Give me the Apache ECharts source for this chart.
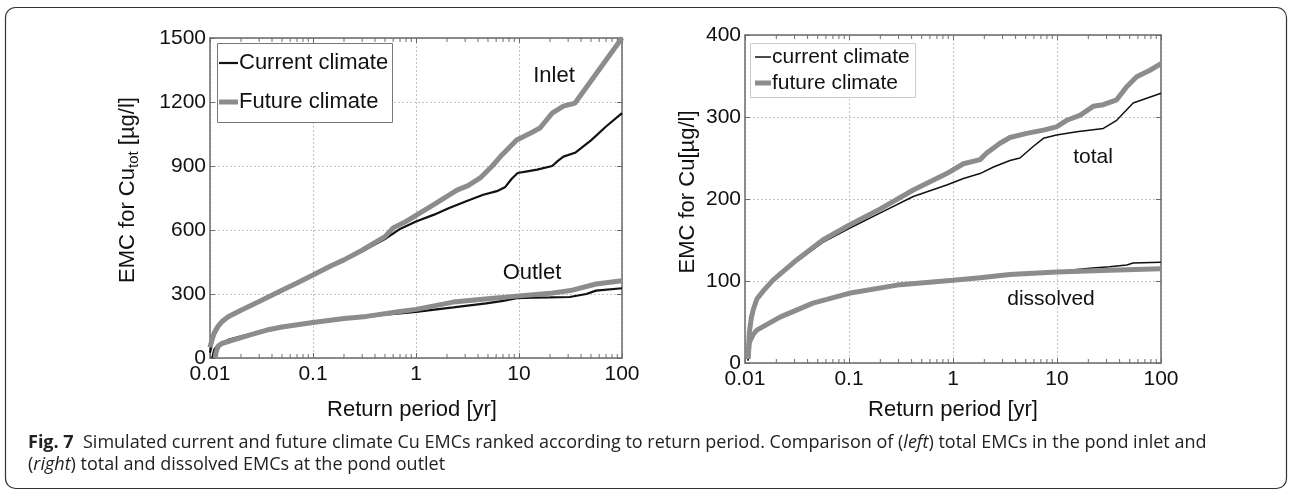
<!DOCTYPE html>
<html>
<head>
<meta charset="utf-8">
<script src="https://cdn.jsdelivr.net/npm/echarts@6/dist/echarts.min.js"></script>
<style>
html,body{margin:0;padding:0;background:#fff;}
#chart{width:1290px;height:490px;}
</style>
</head>
<body>
<div id="chart"></div>
<script>
// ---------- data ----------
const xTickLabels = ['0.01', '0.1', '1', '10', '100'];
const leftYTicks = [0, 300, 600, 900, 1200, 1500];
const rightYTicks = [0, 100, 200, 300, 400];
const minorTicks = [0.02,0.03,0.04,0.05,0.06,0.07,0.08,0.09,
                    0.2,0.3,0.4,0.5,0.6,0.7,0.8,0.9,
                    2,3,4,5,6,7,8,9,
                    20,30,40,50,60,70,80,90];
const leftLegend = ['Current climate', 'Future climate'];
const rightLegend = ['current climate', 'future climate'];

// Left panel: total Cu at inlet / outlet  [return period (yr), EMC (µg/l)]
const inletCurrent = [[0.01,25],[0.0105,70],[0.011,105],[0.012,140],[0.013,163],[0.015,188],[0.02,222],[0.03,262],[0.05,315],[0.07,350],[0.1,387],[0.15,430],[0.2,458],[0.3,500],[0.5,558],[0.7,605],[1.0,640],[1.5,672],[2.1,703],[3.3,741],[4.5,765],[6.1,782],[7.3,800],[8.5,840],[9.7,867],[12,875],[15,883],[21,900],[24,925],[27,944],[35,962],[50,1020],[70,1085],[100,1148]];
const inletFuture = [[0.01,50],[0.0105,90],[0.011,118],[0.012,150],[0.013,170],[0.015,193],[0.02,224],[0.03,265],[0.05,318],[0.07,352],[0.1,389],[0.15,432],[0.2,460],[0.3,505],[0.5,569],[0.6,610],[0.8,640],[1.0,668],[1.46,717],[2.5,787],[3.2,808],[4.2,844],[5.5,900],[6.6,944],[9.5,1022],[13,1055],[16,1078],[21,1148],[27,1181],[35,1195],[100,1500]];
const outletCurrent = [[0.0105,0],[0.011,40],[0.012,62],[0.015,85],[0.02,102],[0.035,130],[0.05,145],[0.1,166],[0.2,185],[0.33,194],[0.5,203],[0.7,209],[1,216],[2.3,237],[4.8,256],[7,268],[9.5,281],[13.7,283],[20,284],[31,286],[45,300],[56,316],[100,327]];
const outletFuture = [[0.0112,0],[0.0115,30],[0.012,55],[0.013,68],[0.0167,84],[0.025,110],[0.0357,131],[0.05,145],[0.1,166],[0.2,185],[0.33,195],[0.7,218],[1,228],[2.3,262],[5,278],[9.5,290],[20,303],[33,318],[56,347],[100,362]];

// Right panel: Cu at outlet, total and dissolved
const totalCurrent = [[0.0107,3],[0.011,35],[0.012,62],[0.013,76],[0.015,88],[0.0186,100],[0.0316,124],[0.056,147],[0.1,164],[0.2,183],[0.415,203],[0.87,217],[1.26,225],[1.82,231],[2.45,239],[3.53,247],[4.4,250],[5.9,264],[7.4,274],[9.9,278],[15.5,282],[27.9,286],[37.5,296],[54,317],[100,329]];
const totalFuture = [[0.0107,5],[0.011,37],[0.0115,55],[0.012,65],[0.013,78],[0.015,88],[0.0186,101],[0.0316,126],[0.056,150],[0.1,168],[0.2,188],[0.415,211],[0.87,231],[1.26,243],[1.82,248],[2.11,256],[2.83,268],[3.53,275],[5.1,280],[7.4,284],[9.9,288],[12.4,296],[16.6,302],[22.3,313],[27.9,315],[37.5,321],[46.8,337],[58.4,349],[78.3,357],[100,365]];
const dissolvedCurrent = [[0.0107,3],[0.011,24],[0.012,34],[0.013,39],[0.0217,55],[0.045,72],[0.1,84],[0.29,94],[1,100],[1.82,103],[3.53,107],[9.9,111],[15.5,114],[22,116],[32,117.5],[46.8,119.5],[54,122],[100,123]];
const dissolvedFuture = [[0.0107,5],[0.011,25],[0.012,35],[0.013,40],[0.0217,56],[0.045,73],[0.1,85],[0.29,95],[1,101],[1.82,104],[3.53,108],[9.9,111],[32,113],[100,115]];

// ---------- styling ----------
const FONT = 'Liberation Sans, Arial, Helvetica, sans-serif';
const CAP = 'Open Sans, sans-serif';
const AX = '#6a6a6a';
const GRAY = '#8c8c8c';
const BLACK = '#111111';

const chart = echarts.init(document.getElementById('chart'), null, {renderer:'canvas'});

function xAxisDef(grid, bottom) {
  return {
    type:'log', logBase:10, gridIndex:grid, min:0.01, max:100,
    position: bottom ? 'bottom' : 'top',
    axisLine:{show:true, onZero:false, lineStyle:{color:AX, width:1.5}},
    axisTick:{show:true, inside:true, length:5, lineStyle:{color:AX, width:1}},
    axisLabel:{show:bottom, fontSize:21, fontFamily:FONT, color:BLACK, margin:6,
      formatter: v => { const s = xTickLabels.find(t => Math.abs(parseFloat(t) - v) / v < 1e-6); return s || ''; }},
    splitLine:{show:bottom, lineStyle:{color:'#c4c4c4', type:[2,2], width:1}},
    minorTick:{show:false}
  };
}
function yAxisDef(grid, left, ticks) {
  return {
    type:'value', gridIndex:grid, min:ticks[0], max:ticks[ticks.length-1],
    interval: ticks[1]-ticks[0], position: left ? 'left' : 'right',
    axisLine:{show:true, onZero:false, lineStyle:{color:AX, width:1.5}},
    axisTick:{show:true, inside:true, length:5, lineStyle:{color:AX, width:1}},
    axisLabel:{show:left, fontSize:21, fontFamily:FONT, color:BLACK, margin:4, formatter: v => String(v)},
    splitLine:{show:left, lineStyle:{color:'#c4c4c4', type:[2,2], width:1}}
  };
}
function minorTickSeries(xi, yi, yMin, yMax) {
  return {
    type:'custom', xAxisIndex:xi, yAxisIndex:yi, silent:true, z:3,
    data: minorTicks.map(v => [v, yMin]),
    renderItem: (params, api) => {
      const b = api.coord([api.value(0), yMin]);
      const t = api.coord([api.value(0), yMax]);
      return {type:'group', children:[
        {type:'line', shape:{x1:b[0], y1:b[1], x2:b[0], y2:b[1]-4}, style:{stroke:AX, lineWidth:1}},
        {type:'line', shape:{x1:t[0], y1:t[1], x2:t[0], y2:t[1]+4}, style:{stroke:AX, lineWidth:1}}
      ]};
    }
  };
}
function lineSeries(name, data, xi, yi, color, width, z) {
  return {type:'line', name, data, xAxisIndex:xi, yAxisIndex:yi, showSymbol:false, symbol:'none',
          lineStyle:{color, width}, itemStyle:{color}, z, silent:true};
}
function txt(x, y, text, size, extra) {
  return Object.assign({type:'text', x, y, silent:true,
    style:{text, font: size + 'px ' + FONT, fill:BLACK, align:'center', verticalAlign:'middle'}}, extra || {});
}
function legendBox(x, y, w, h, stroke, names, rows, lineX1, lineX2, widths, size) {
  const els = [{type:'rect', silent:true, shape:{x:x+0.5, y:y+0.5, width:w, height:h},
                style:{fill:'#fff', stroke, lineWidth:1}, z:10}];
  names.forEach((n, i) => {
    els.push({type:'line', silent:true, z:11, shape:{x1:lineX1, y1:rows[i], x2:lineX2, y2:rows[i]},
              style:{stroke: i === 0 ? BLACK : GRAY, lineWidth: widths[i]}});
    els.push({type:'text', silent:true, z:11, x:lineX2 + 1, y:rows[i],
              style:{text:n, font:size + 'px ' + FONT, fill:BLACK, align:'left', verticalAlign:'middle'}});
  });
  return els;
}

const option = {
  animation:false,
  backgroundColor:'#fff',
  grid:[
    {left:210, top:38, width:412, height:320},
    {left:745, top:35, width:416, height:328}
  ],
  xAxis:[xAxisDef(0,true), xAxisDef(0,false), xAxisDef(1,true), xAxisDef(1,false)],
  yAxis:[yAxisDef(0,true,leftYTicks), yAxisDef(0,false,leftYTicks), yAxisDef(1,true,rightYTicks), yAxisDef(1,false,rightYTicks)],
  series:[
    lineSeries(leftLegend[0], inletCurrent, 0, 0, BLACK, 2.2, 4),
    lineSeries(leftLegend[0], outletCurrent, 0, 0, BLACK, 2.2, 4),
    lineSeries(leftLegend[1], inletFuture, 0, 0, GRAY, 5, 5),
    lineSeries(leftLegend[1], outletFuture, 0, 0, GRAY, 5, 5),
    lineSeries(rightLegend[0], totalCurrent, 2, 2, BLACK, 1.5, 4),
    lineSeries(rightLegend[0], dissolvedCurrent, 2, 2, BLACK, 1.5, 4),
    lineSeries(rightLegend[1], totalFuture, 2, 2, GRAY, 5, 5),
    lineSeries(rightLegend[1], dissolvedFuture, 2, 2, GRAY, 5, 5),
    minorTickSeries(0, 0, 0, 1500),
    minorTickSeries(2, 2, 0, 400)
  ],
  graphic:[
    {type:'rect', silent:true, shape:{x:5.5, y:7.5, width:1281, height:481, r:10},
     style:{fill:null, stroke:'#333', lineWidth:1.2}},
    ...legendBox(217, 43, 175, 79, '#777', leftLegend, [63, 102], 219, 238, [2.2, 5], 22),
    ...legendBox(750, 43, 165, 54, '#ccc', rightLegend, [57, 83], 755, 771, [1.5, 5], 21),
    {type:'text', x:128, y:190, rotation:Math.PI/2, silent:true,
     style:{text:'EMC for Cu{sub|tot} [µg/l]', font:'22px ' + FONT, fill:BLACK, align:'center', verticalAlign:'middle',
       rich:{sub:{fontSize:15, fontFamily:FONT, fill:BLACK, padding:[12,0,0,0]}}}},
    txt(688, 192, 'EMC for Cu[µg/l]', 22, {rotation:Math.PI/2}),
    txt(412, 410, 'Return period [yr]', 22),
    txt(953, 410, 'Return period [yr]', 22),
    txt(554, 76, 'Inlet', 22),
    txt(532, 273, 'Outlet', 22),
    txt(1093, 157, 'total', 21),
    txt(1051, 299, 'dissolved', 21),
    {type:'text', x:28, y:443, silent:true,
     style:{text:'{b|Fig. 7}  Simulated current and future climate Cu EMCs ranked according to return period. Comparison of ({i|left}) total EMCs in the pond inlet and',
       font:'18px ' + CAP, fill:'#222', verticalAlign:'middle',
       rich:{b:{fontWeight:'bold', fontSize:18, fontFamily:CAP, fill:'#222'},
             i:{fontStyle:'italic', fontSize:18, fontFamily:CAP, fill:'#222'}}}},
    {type:'text', x:28, y:465, silent:true,
     style:{text:'({i|right}) total and dissolved EMCs at the pond outlet',
       font:'18px ' + CAP, fill:'#222', verticalAlign:'middle',
       rich:{i:{fontStyle:'italic', fontSize:18, fontFamily:CAP, fill:'#222'}}}}
  ]
};
chart.setOption(option);
</script>
</body>
</html>
